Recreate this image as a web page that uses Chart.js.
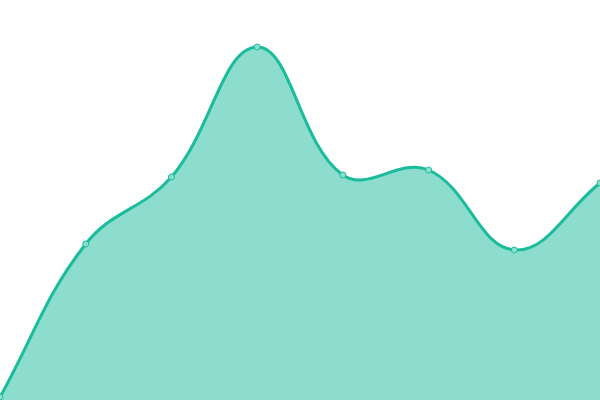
<!DOCTYPE html>
<html>
<head>
<meta charset="utf-8">
<script src="https://cdn.jsdelivr.net/npm/chart.js@4"></script>
<style>
  html, body { margin: 0; padding: 0; background: #fff; }
  #wrap { width: 600px; height: 400px; }
</style>
</head>
<body>
<div id="wrap"><canvas id="chart"></canvas></div>
<script>
// donnees
var labels = ['1', '2', '3', '4', '5', '6', '7', '8'];
var values = [3, 156, 223, 353, 225, 230, 150, 217];

var ctx = document.getElementById('chart').getContext('2d');

var myChart = new Chart(ctx, {
  type: 'line',
  data: {
    labels: labels,
    datasets: [{
      data: values,
      borderColor: '#1abc9c',
      backgroundColor: 'rgba(26, 188, 156, 0.5)',
      borderWidth: 3,
      fill: true,
      tension: 0.4,
      pointRadius: 3,
      pointBorderWidth: 1,
      pointBackgroundColor: '#8cdecd',
      pointBorderColor: '#1abc9c'
    }]
  },
  options: {
    responsive: true,
    maintainAspectRatio: false,
    animation: false,
    layout: { padding: 0, autoPadding: false },
    plugins: {
      legend: { display: false },
      tooltip: { enabled: false }
    },
    scales: {
      x: { display: false },
      y: { display: false, min: 0, max: 400 }
    }
  }
});
</script>
</body>
</html>
